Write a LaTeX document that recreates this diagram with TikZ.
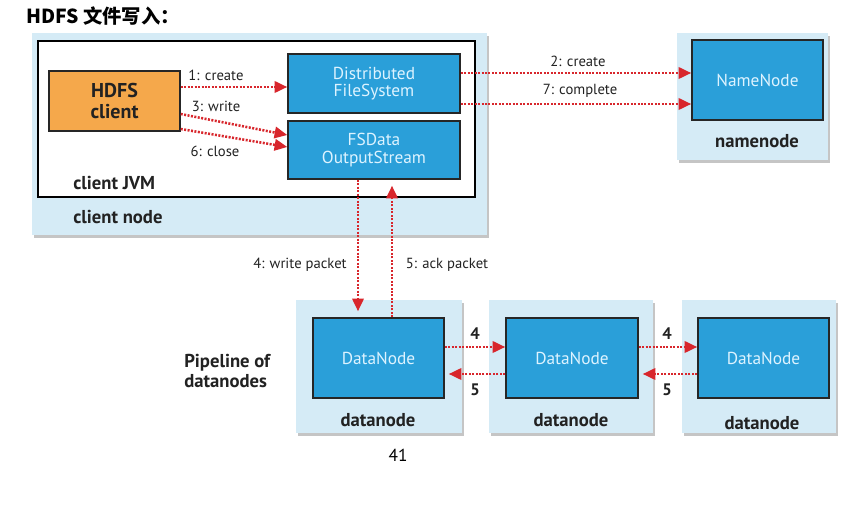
\documentclass[tikz,border=0pt]{standalone}
\usepackage{fontspec}
\setmainfont{PT Sans}
\newfontfamily\cjk{Noto Sans CJK SC}
\usetikzlibrary{arrows.meta,shadows,calc}
\definecolor{regionblue}{HTML}{D5EBF6}
\definecolor{boxblue}{HTML}{2A9FD9}
\definecolor{boxtext}{HTML}{DDF3FF}
\definecolor{orangebox}{HTML}{F5A84B}
\definecolor{arrowred}{HTML}{D8262C}
\definecolor{darktext}{HTML}{222222}
\begin{document}
\begin{tikzpicture}[x=0.75pt,y=-0.75pt,
  region/.style={fill=regionblue, draw=none, inner sep=0pt,
    drop shadow={shadow xshift=1.5pt, shadow yshift=-2.5pt, opacity=0.5, fill=black!45}},
  bluebox/.style={draw=black!85, line width=1.1pt, fill=boxblue, text=boxtext,
    font=\fontsize{13}{13}\selectfont, align=center, inner sep=0pt},
  arr/.style={draw=arrowred, line width=1.9pt, dash pattern=on 1.5pt off 1.1pt,
    -{Triangle[length=9.5pt,width=8.5pt]}},
  lbl/.style={font=\fontsize{11}{12}\selectfont, text=darktext, inner sep=1pt},
  blabel/.style={font=\bfseries\fontsize{14}{15}\selectfont, text=darktext, inner sep=0pt},
  numlbl/.style={font=\bfseries\fontsize{12.5}{13}\selectfont, text=darktext, inner sep=0pt}
]
\useasboundingbox (0,0) rectangle (851,506);

% title
\node[anchor=west, inner sep=0pt, font=\cjk\bfseries\fontsize{14.5}{16}\selectfont] (title) at (26,16) {HDFS 文件写入：};

% regions
\node[region, minimum width=341.25pt, minimum height=151.5pt] (clientnode) at (259.5,134) {};
\node[draw=black, line width=1.2pt, fill=white, inner sep=0pt, minimum width=327.75pt, minimum height=117pt] (jvm) at (256.5,119) {};
\node[region, minimum width=113.25pt, minimum height=95.25pt] (nnregion) at (752.5,96.5) {};
\node[region, minimum width=124.5pt, minimum height=99.75pt] (dnr1) at (379,366.5) {};
\node[region, minimum width=123pt, minimum height=99.75pt] (dnr2) at (571,366.5) {};
\node[region, minimum width=115.5pt, minimum height=99.75pt] (dnr3) at (759,366.5) {};

% boxes
\node[draw=black!85, line width=1.1pt, fill=orangebox, text=darktext, align=center, inner sep=0pt,
  font=\bfseries\fontsize{15}{15.5}\selectfont, minimum width=98.25pt, minimum height=45pt] (hc) at (114.5,101) {HDFS\\client};
\node[bluebox, minimum width=129pt, minimum height=44.25pt] (dfs) at (374,83.5) {Distributed\\FileSystem};
\node[bluebox, minimum width=129pt, minimum height=43.5pt] (fsd) at (374,150) {FSData\\OutputStream};
\node[bluebox, minimum width=98.25pt, minimum height=60pt] (nn) at (757.5,80) {NameNode};
\node[bluebox, minimum width=98.25pt, minimum height=60pt] (dn1) at (378.5,358) {DataNode};
\node[bluebox, minimum width=99pt, minimum height=60pt] (dn2) at (572,358) {DataNode};
\node[bluebox, minimum width=98.25pt, minimum height=60pt] (dn3) at (763.5,358) {DataNode};

% region labels
\node[blabel, anchor=west] (jvmlbl) at (73,183) {client JVM};
\node[blabel, anchor=west] (cnlbl) at (73,217) {client node};
\node[blabel] (nnlbl) at (757,141) {namenode};
\node[blabel] (dnl1) at (378,420) {datanode};
\node[blabel] (dnl2) at (571,420) {datanode};
\node[blabel] (dnl3) at (762,423) {datanode};
\node[blabel, anchor=west, align=left, font=\bfseries\fontsize{14}{15}\selectfont] (pipe) at (184,371) {Pipeline of\\datanodes};

% client arrows
\coordinate (a1) at ($(hc.east)+(0,-14)$);
\draw[arr] (a1) -- (a1 -| dfs.west);
\coordinate (a3s) at ($(hc.east)+(0,13)$);
\coordinate (a3e) at ($(fsd.west)+(0,-15)$);
\draw[arr] (a3s) -- (a3e);
\coordinate (a6s) at ($(hc.east)+(0,28)$);
\coordinate (a6e) at ($(fsd.west)+(0,-3)$);
\draw[arr] (a6s) -- (a6e);
\node[lbl] (l1) at (216,75) {1: create};
\node[lbl] (l3) at (216,106) {3: write};
\node[lbl] (l6) at (215,151) {6: close};

% namenode arrows
\coordinate (a2) at ($(dfs.east)+(0,-10.5)$);
\draw[arr] (a2) -- (a2 -| nn.west);
\coordinate (a7) at ($(dfs.east)+(0,20.5)$);
\draw[arr] (a7) -- (a7 -| nn.west);
\node[lbl] (l2) at (578,61) {2: create};
\node[lbl] (l7) at (580,91) {7: complete};

% write / ack packet
\coordinate (a4) at ($(fsd.south)+(-16,0)$);
\draw[arr] (a4) -- ($(a4 |- dn1.north)+(0,-6)$);
\coordinate (a5) at ($(dn1.north)+(13.5,0)$);
\draw[arr] (a5) -- ($(a5 |- fsd.south)+(0,6)$);
\node[lbl] (l4) at (300,265) {4: write packet};
\node[lbl] (l5) at (447,265) {5: ack packet};

% pipeline arrows
\coordinate (p1) at ($(dn1.east)+(0,-11)$);
\draw[arr] (p1) -- (p1 -| dn2.west);
\coordinate (q1) at ($(dn2.west)+(0,16)$);
\draw[arr] (q1) -- ($(q1 -| dn1.east)+(4,0)$);
\coordinate (p2) at ($(dn2.east)+(0,-11)$);
\draw[arr] (p2) -- (p2 -| dn3.west);
\coordinate (q2) at ($(dn3.west)+(0,16)$);
\draw[arr] (q2) -- ($(q2 -| dn2.east)+(4,0)$);
\node[numlbl] (n4a) at (475,334) {4};
\node[numlbl] (n5a) at (475,390) {5};
\node[numlbl] (n4b) at (667,334) {4};
\node[numlbl] (n5b) at (667,390) {5};

% page number
\node[font=\fontsize{13}{14}\selectfont, inner sep=0pt] (page) at (398,455) {41};
\end{tikzpicture}
\end{document}
